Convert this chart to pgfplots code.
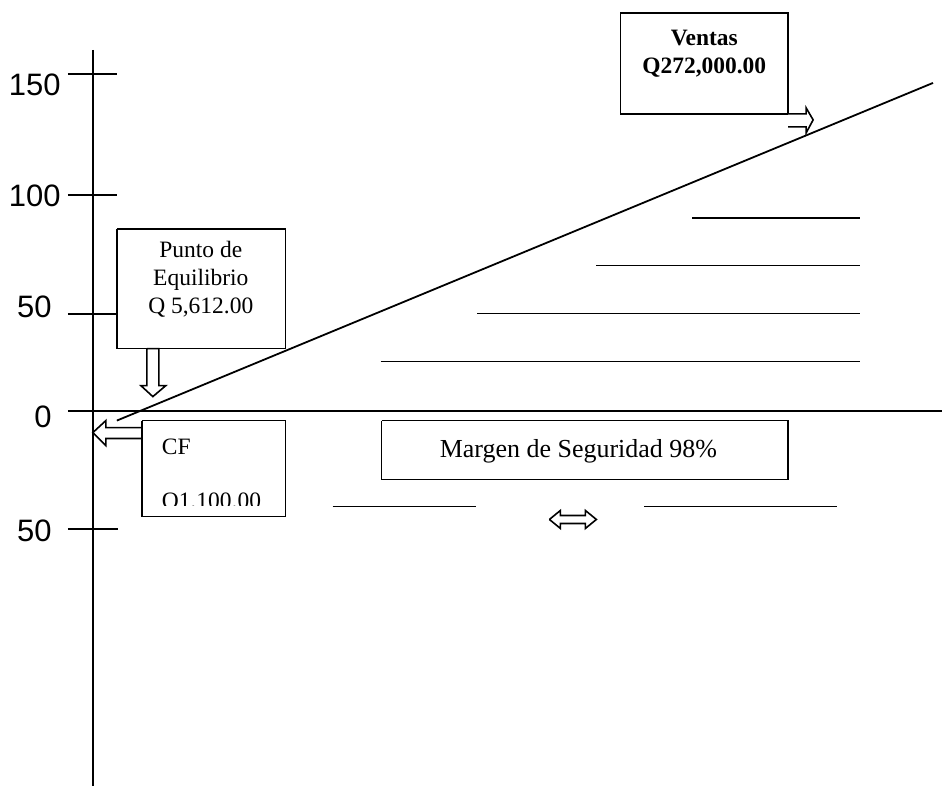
\documentclass[border=0pt]{standalone}
\usepackage{pgfplots}
\pgfplotsset{compat=1.18}
\usepackage{fontspec}
\setmainfont{Liberation Serif}
\newfontfamily\arial{Liberation Sans}
\begin{document}
\begin{tikzpicture}
\begin{axis}[
    % one unit = one pixel of the reference, y measured downwards
    xmin=0, xmax=943, ymin=0, ymax=789,
    y dir=reverse,
    width=471.5pt, height=394.5pt,
    scale only axis, hide axis, clip=false,
    cycle list={{black, solid, mark=none}},
    every axis plot/.append style={line width=0.75pt},
  ]
  % page frame (invisible)
  \addplot[draw=none] coordinates {(0,0) (943,789)};

  % axes
  \addplot[line width=1pt] coordinates {(93,50) (93,787)};
  \addplot[line width=1pt] coordinates {(68,411) (943,411)};
  % ticks
  \addplot[line width=1pt] coordinates {(68,74) (117,74)};
  \addplot[line width=1pt] coordinates {(68,195) (117,195)};
  \addplot[line width=1pt] coordinates {(68,314) (117,314)};
  \addplot[line width=1pt] coordinates {(68,530) (118,530)};
  \tikzset{ticklab/.style={font=\arial\fontsize{15.5}{18}\selectfont, anchor=east, inner sep=0pt}}
  \node[ticklab] at (axis cs:61,85) {150};
  \node[ticklab] at (axis cs:61,196) {100};
  \node[ticklab] at (axis cs:52,307) {50};
  \node[ticklab] at (axis cs:52,417) {0};
  \node[ticklab] at (axis cs:52,531) {50};

  % ventas line
  \addplot[line width=0.9pt] coordinates {(117,421) (934,83)};

  % hatch lines
  \addplot coordinates {(693,218) (861,218)};
  \addplot coordinates {(597,266) (861,266)};
  \addplot coordinates {(478,314) (861,314)};
  \addplot coordinates {(381,362) (861,362)};
  \addplot coordinates {(333,507) (477,507)};
  \addplot coordinates {(645,507) (838,507)};

  % punto de equilibrio
  \addplot[line width=0.8pt, fill=white] coordinates {(117,229) (286,229) (286,349) (117,349) (117,229)};
  \node[font=\fontsize{11.75}{14}\selectfont, align=center] at (axis cs:201,280)
    {Punto de\\Equilibrio\\Q 5,612.00};
  \addplot[line width=0.8pt, fill=white] coordinates {(147,349) (159,349) (159,386) (166,386) (153,397) (141,386) (147,386) (147,349)};

  % CF
  \addplot[line width=0.8pt, fill=white] coordinates {(142,421) (286,421) (286,517) (142,517) (142,421)};
  \begin{scope}
    \clip (axis cs:142,421) rectangle (axis cs:286,506);
    \node[font=\fontsize{11.75}{13}\selectfont, anchor=west] at (axis cs:155,447) {CF};
    \node[font=\fontsize{11.75}{13}\selectfont, anchor=west] at (axis cs:155,503) {Q1,100.00};
  \end{scope}
  \addplot[line width=0.8pt, fill=white] coordinates {(142,428) (106,428) (106,421) (93,433) (106,446) (106,439) (142,439) (142,428)};

  % ventas
  \addplot[line width=0.8pt, fill=white] coordinates {(621,13) (789,13) (789,114) (621,114) (621,13)};
  \node[font=\bfseries\fontsize{11.75}{14}\selectfont, align=center] at (axis cs:705,54)
    {Ventas\\Q272,000.00};
  \addplot[line width=0.8pt, fill=white] coordinates {(789,114) (807,114) (807,108) (814,120) (807,133) (807,127) (789,127)};

  % margen de seguridad
  \addplot[line width=0.8pt, fill=white] coordinates {(382,421) (789,421) (789,480) (382,480) (382,421)};
  \node[font=\fontsize{13}{15}\selectfont] at (axis cs:579,452) {Margen de Seguridad 98\%};
  \addplot[line width=0.8pt, fill=white] coordinates {(550,520) (561,511) (561,516) (586,516) (586,511) (597,520) (586,529) (586,524) (561,524) (561,529) (550,520)};
\end{axis}
\end{tikzpicture}
\end{document}
